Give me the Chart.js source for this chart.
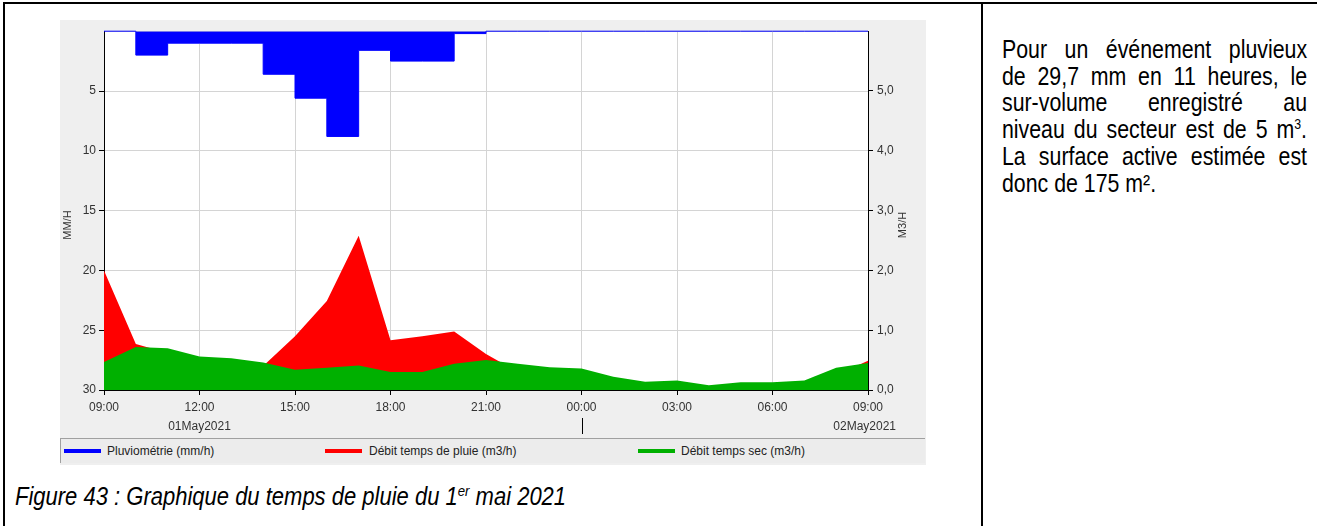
<!DOCTYPE html>
<html lang="fr">
<head>
<meta charset="utf-8">
<title>Temps de pluie du 1er mai 2021</title>
<script src="https://cdn.jsdelivr.net/npm/chart.js@4.4.1/dist/chart.umd.min.js"></script>
<style>
  html, body { margin: 0; padding: 0; background: #fff; }
  body { position: relative; width: 1317px; height: 526px; overflow: hidden; }
  .rule { position: absolute; background: #000; }
  .rule.top { left: 3px; top: 2px; width: 1314px; height: 2px; }
  .rule.left { left: 3px; top: 2px; width: 2px; height: 524px; }
  .rule.mid { left: 981px; top: 2px; width: 2px; height: 524px; }
  #panel { position: absolute; left: 60px; top: 20px; width: 866px; height: 445px; background: #efefef; }
  #panel canvas { position: absolute; left: 0; top: 0; }
  .legend {
    position: absolute; left: 0; top: 418px; width: 864px; height: 24px;
    border-top: 1px solid #a0a0a0; border-left: 1px solid #a0a0a0;
    background: #ececec;
    font: 12px "Liberation Sans", Arial, sans-serif; color: #222;
  }
  .legend .item { position: absolute; top: 0; height: 24px; line-height: 24px; white-space: nowrap; }
  .legend .swatch { position: absolute; top: 10px; width: 37px; height: 4px; }
  .legend .label { position: absolute; top: 0; }
  /* no narrow face installed: condense the regular one horizontally */
  .note {
    position: absolute; left: 1002px; top: 36px; width: 372px;
    transform: scaleX(0.82); transform-origin: 0 0;
    font: 26px "Liberation Sans", Arial, sans-serif;
    line-height: 26.7px; color: #000;
  }
  .note span { display: block; white-space: nowrap; text-align: justify; text-align-last: justify; }
  .note span.last { text-align-last: left; }
  .note sup { font-size: 15px; line-height: 0; vertical-align: 9px; }
  .caption {
    position: absolute; left: 15px; top: 482px;
    transform: scaleX(0.88); transform-origin: 0 0;
    font: italic 25px "Liberation Sans", Arial, sans-serif;
    color: #000; white-space: nowrap;
  }
  .caption sup { font-size: 15px; line-height: 0; vertical-align: 9px; }
</style>
</head>
<body>
<div class="rule top"></div>
<div class="rule left"></div>
<div class="rule mid"></div>

<div id="panel">
  <canvas id="rainChart" width="866" height="445"></canvas>
  <div class="legend">
    <div class="item"><span class="swatch" style="left:3px;background:#0000ff"></span><span class="label" style="left:46px">Pluviométrie (mm/h)</span></div>
    <div class="item"><span class="swatch" style="left:264px;background:#ff0000"></span><span class="label" style="left:308px">Débit temps de pluie (m3/h)</span></div>
    <div class="item"><span class="swatch" style="left:577px;background:#00b000"></span><span class="label" style="left:620px">Débit temps sec (m3/h)</span></div>
  </div>
</div>

<div class="note">
  <span>Pour un événement pluvieux</span>
  <span>de 29,7 mm en 11 heures, le</span>
  <span>sur-volume enregistré au</span>
  <span>niveau du secteur est de 5 m<sup>3</sup>.</span>
  <span>La surface active estimée est</span>
  <span class="last">donc de 175 m².</span>
</div>

<div class="caption">Figure 43 : Graphique du temps de pluie du 1<sup>er</sup> mai 2021</div>

<script>
// Hours since 01 May 2021 00:00, one sample per hour (09:00 -> 09:00 next day)
const HOURS = [9, 10, 11, 12, 13, 14, 15, 16, 17, 18, 19, 20, 21, 22, 23, 24, 25, 26, 27, 28, 29, 30, 31, 32, 33];

// Rain intensity (mm/h) for the hour starting at each sample
const RAIN_MM_H = [0, 2.0, 1.0, 1.0, 1.0, 3.6, 5.6, 8.8, 1.6, 2.5, 2.5, 0.2, 0, 0, 0, 0, 0, 0, 0, 0, 0, 0, 0, 0, 0];

// Measured flow during the rain event (m3/h)
const WET_FLOW = [2.0, 0.77, 0.62, 0.52, 0.48, 0.40, 0.90, 1.49, 2.58, 0.83, 0.90, 0.98, 0.60, 0.30, 0.30, 0.28, 0.18, 0.10, 0.12, 0.05, 0.10, 0.10, 0.12, 0.25, 0.49];

// Reference dry weather flow (m3/h)
const DRY_FLOW = [0.47, 0.72, 0.70, 0.56, 0.53, 0.46, 0.34, 0.37, 0.41, 0.30, 0.30, 0.44, 0.50, 0.44, 0.38, 0.36, 0.22, 0.14, 0.16, 0.08, 0.13, 0.13, 0.16, 0.37, 0.45];

const DATE_LABELS = [
  { hour: 12, text: '01May2021', align: 'center', dx: 0 },
  { hour: 33, text: '02May2021', align: 'right', dx: 28 },
];

const COLORS = {
  rain: '#0000ff',
  wet: '#ff0000',
  dry: '#00b000',
  grid: '#d4d4d4',
  axis: '#000000',
  text: '#333333',
};

const FONT = "'Liberation Sans', Arial, sans-serif";

const pts = (values) => HOURS.map((h, i) => ({ x: h, y: values[i] }));
const hourLabel = (v) => String(v % 24).padStart(2, '0') + ':00';

// white plot background, axis titles, date row and day separator
const decorations = {
  id: 'decorations',
  beforeDraw(chart) {
    const { ctx, chartArea: a } = chart;
    ctx.save();
    ctx.fillStyle = '#ffffff';
    ctx.fillRect(a.left, a.top, a.right - a.left, a.bottom - a.top);
    ctx.restore();
  },
  afterDraw(chart) {
    const { ctx, scales } = chart;
    const x = scales.x;
    ctx.save();
    ctx.fillStyle = COLORS.text;
    ctx.font = '12px ' + FONT;
    ctx.textBaseline = 'middle';
    DATE_LABELS.forEach(d => {
      ctx.textAlign = d.align;
      ctx.fillText(d.text, x.getPixelForValue(d.hour) + d.dx, 407);
    });

    // midnight marker under the tick labels
    const mid = Math.round(x.getPixelForValue(24)) + 0.5;
    ctx.strokeStyle = '#000';
    ctx.lineWidth = 1;
    ctx.beginPath();
    ctx.moveTo(mid, 398);
    ctx.lineTo(mid, 414);
    ctx.stroke();

    ctx.font = '11px ' + FONT;
    ctx.textAlign = 'center';
    [['MM/H', 8], ['M3/H', 843]].forEach(([t, px]) => {
      ctx.save();
      ctx.translate(px, 205);
      ctx.rotate(-Math.PI / 2);
      ctx.fillText(t, 0, 0);
      ctx.restore();
    });
    ctx.restore();
  },
};

Chart.defaults.font.family = FONT;
Chart.defaults.font.size = 12;
Chart.defaults.color = COLORS.text;

new Chart(document.getElementById('rainChart'), {
  type: 'line',
  data: {
    datasets: [
      {
        label: 'Pluviométrie (mm/h)',
        data: pts(RAIN_MM_H),
        yAxisID: 'yRain',
        stepped: true,
        borderColor: COLORS.rain,
        backgroundColor: COLORS.rain,
        borderWidth: 1,
        fill: 'origin',
        pointRadius: 0,
        clip: 2,
        order: 1,
      },
      {
        label: 'Débit temps sec (m3/h)',
        data: pts(DRY_FLOW),
        yAxisID: 'yFlow',
        borderWidth: 0,
        backgroundColor: COLORS.dry,
        fill: 'origin',
        pointRadius: 0,
        tension: 0,
        order: 2,
      },
      {
        label: 'Débit temps de pluie (m3/h)',
        data: pts(WET_FLOW),
        yAxisID: 'yFlow',
        borderWidth: 0,
        backgroundColor: COLORS.wet,
        fill: 'origin',
        pointRadius: 0,
        tension: 0,
        order: 3,
      },
    ],
  },
  options: {
    responsive: false,
    devicePixelRatio: 1,
    animation: false,
    layout: { padding: { top: 4, left: 0, right: 0, bottom: 0 } },
    plugins: {
      legend: { display: false },
      tooltip: { enabled: false },
    },
    scales: {
      x: {
        type: 'linear',
        min: 9,
        max: 33,
        afterFit: (s) => { s.height = 75; },
        ticks: {
          stepSize: 3,
          maxRotation: 0,
          padding: 5,
          color: COLORS.text,
          callback: hourLabel,
        },
        grid: { color: COLORS.grid, tickColor: COLORS.axis, tickLength: 5 },
        border: { color: COLORS.axis },
      },
      yRain: {
        position: 'left',
        reverse: true,
        min: 0,
        max: 30,
        afterFit: (s) => { s.width = 44; },
        ticks: {
          stepSize: 5,
          padding: 3,
          color: COLORS.text,
          callback: (v) => (v === 0 ? '' : v),
        },
        grid: {
          color: COLORS.grid,
          tickLength: 5,
          tickColor: (c) => (c.tick && c.tick.value === 0 ? 'rgba(0,0,0,0)' : COLORS.axis),
        },
        border: { color: COLORS.axis },
      },
      yFlow: {
        position: 'right',
        min: 0,
        max: 6,
        afterFit: (s) => { s.width = 58; },
        ticks: {
          stepSize: 1,
          padding: 4,
          color: COLORS.text,
          callback: (v) => (v === 6 ? '' : v.toFixed(1).replace('.', ',')),
        },
        grid: {
          drawOnChartArea: false,
          tickLength: 5,
          tickColor: (c) => (c.tick && c.tick.value === 6 ? 'rgba(0,0,0,0)' : COLORS.axis),
        },
        border: { color: COLORS.axis },
      },
    },
  },
  plugins: [decorations],
});
</script>
</body>
</html>
